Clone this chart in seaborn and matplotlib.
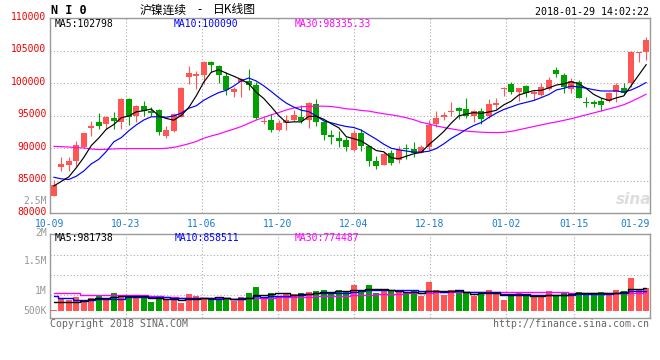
import numpy as np
import pandas as pd
import matplotlib
matplotlib.use("Agg")
import matplotlib.pyplot as plt
from matplotlib.transforms import ScaledTranslation
import seaborn as sns

# ---------------- data ----------------
date_labels = ['10-09', '10-23', '11-06', '11-20', '12-04', '12-18', '01-02', '01-15', '01-29']
date_idx = [0, 10, 20, 30, 40, 50, 60, 69, 79]

open_ = [82700, 87200, 87500, 88010, 90150, 93060, 94080, 93670, 94640, 94000,
         97600, 94900, 96530, 95800, 95820, 91940, 92600, 94850, 101020, 101070,
         101230, 103270, 102600, 101120, 98670, 100150, 100360, 99740, 94030, 94390,
         92860, 93880, 94390, 94800, 94390, 96840, 93980, 92090, 91640, 91330,
         89690, 92350, 90410, 88110, 87500, 89290, 88160, 89950, 89950, 89290,
         90200, 93780, 94740, 95660, 96220, 96070, 95000, 95770, 94900, 96630,
         99080, 99950, 98720, 99590, 98300, 98270, 99130, 102040, 101280, 99130,
         100260, 97040, 97140, 97250, 97350, 98680, 99340, 100000, 104590, 104850]
high = [85200, 88700, 88700, 91100, 92400, 94130, 95400, 94900, 95610, 97700,
        97760, 96600, 97300, 96400, 96020, 93470, 95450, 99400, 102650, 101890,
        103470, 103470, 102800, 101790, 99490, 100870, 102190, 100150, 94800, 95310,
        94390, 95100, 95920, 96630, 97200, 97600, 94130, 92860, 92600, 91740,
        92760, 92960, 90410, 88780, 89390, 89700, 90300, 90710, 90970, 90560,
        94390, 95760, 95510, 97140, 96430, 97700, 95920, 96170, 97600, 97760,
        99490, 100150, 99330, 99800, 98900, 100000, 101020, 102550, 101630, 100770,
        100510, 97960, 97450, 97710, 98730, 100000, 100000, 105000, 104850, 107140]
low = [82600, 86500, 86500, 87250, 90000, 91840, 92960, 92960, 92960, 93000,
       93620, 94000, 94900, 94900, 92100, 91640, 92450, 94800, 99850, 99080,
       99850, 101790, 100100, 98200, 97960, 97960, 98980, 94540, 93780, 92450,
       92600, 92760, 94130, 93880, 93080, 93370, 91330, 90710, 90150, 89540,
       89540, 89540, 87350, 86890, 87400, 87500, 87760, 88370, 88670, 89290,
       89800, 93270, 94290, 94900, 94490, 94640, 93980, 93780, 94640, 96020,
       98110, 98310, 97300, 97860, 97400, 98110, 98980, 101020, 98570, 98470,
       97710, 96430, 96430, 95670, 97200, 97200, 98220, 99490, 103320, 103570]
close = [84300, 87550, 88110, 90560, 92400, 93470, 93370, 94800, 94230, 97600,
         94850, 96530, 95710, 95500, 92450, 92760, 95250, 99300, 101580, 101480,
         103270, 102860, 101230, 98980, 99130, 100660, 99690, 94640, 94180, 92760,
         93880, 94390, 95150, 94130, 96990, 93980, 92090, 91680, 91070, 90150,
         92350, 90410, 88010, 87350, 89180, 87760, 89700, 89900, 89290, 90200,
         93620, 94640, 95150, 95770, 95770, 95000, 95770, 94540, 96840, 97040,
         99230, 98620, 99280, 98570, 98700, 99390, 100510, 101480, 99490, 100360,
         97810, 96940, 96840, 96680, 98570, 99740, 98470, 104850, 104740, 106630]
volume = [56, 490, 448, 574, 448, 532, 672, 532, 742, 602,
          644, 588, 588, 378, 574, 448, 504, 336, 700, 630,
          560, 504, 504, 518, 434, 574, 742, 994, 602, 742,
          602, 742, 700, 742, 798, 826, 868, 742, 868, 826,
          1078, 868, 1078, 742, 826, 826, 826, 784, 826, 616,
          1204, 868, 658, 868, 784, 742, 616, 700, 868, 784,
          448, 616, 742, 700, 616, 574, 826, 644, 784, 742,
          784, 742, 672, 784, 742, 868, 826, 1372, 868, 952]  # thousands

ma30 = [90300, 90250, 90200, 90100, 90050, 89900, 89800, 89850, 89900, 89950,
        89950, 89950, 89950, 89950, 89950, 90000, 90150, 90400, 90700, 91050,
        91550, 91900, 92200, 92600, 92950, 93350, 93850, 94350, 94750, 95150,
        95500, 95900, 96200, 96400, 96430, 96480, 96480, 96430, 96280, 96070,
        96000, 95820, 95720, 95510, 95310, 95150, 94950, 94700, 94400, 94000,
        93750, 93450, 93200, 93000, 92800, 92650, 92550, 92480, 92430, 92420,
        92450, 92600, 92850, 93100, 93350, 93600, 93850, 94050, 94300, 94550,
        94850, 95150, 95450, 95750, 96050, 96350, 96700, 97200, 97750, 98335]
ma5_head = [84200, 84900, 85600, 87000]
ma10_head = [85550, 85300, 85200, 85700, 86500, 87600, 88300, 89500, 91000]
vma5_head = [378, 378, 378, 378]
vma10_head = [644, 560, 560, 476, 476, 476, 490, 490, 504]
vma30_head = [749, 749, 749, 749, 672, 672, 672, 672, 672, 672, 672, 672, 672,
              630, 630, 588, 588, 560, 560, 560, 560, 546, 546, 546, 504, 504,
              546, 546, 546]

ma_text = ['MA5:102798', 'MA10:100090', 'MA30:98335.33']
vma_text = ['MA5:981738', 'MA10:858511', 'MA30:774487']
ytick_vals = [80000, 85000, 90000, 95000, 100000, 105000, 110000]
vol_labels = ['2M', '1.5M', '1M', '500K']

# ---------------- derived ----------------
n = len(close)
idx = np.arange(n)
o = np.array(open_, float); c = np.array(close, float)
h = np.array(high, float); l = np.array(low, float)
vol = np.array(volume, float) * 1000

def rolled(vals, w, head):
    s = pd.Series(vals).rolling(w).mean().to_numpy()
    s[:len(head)] = head
    return s

ma5 = rolled(c, 5, ma5_head)
ma10 = rolled(c, 10, ma10_head)
vma5 = rolled(vol, 5, np.array(vma5_head) * 1000)
vma10 = rolled(vol, 10, np.array(vma10_head) * 1000)
vma30 = rolled(vol, 30, np.array(vma30_head) * 1000)

RED = '#FF5555'
GREEN = '#00A000'
up = c >= o
colors = np.where(up, RED, GREEN)

# ---------------- style ----------------
sns.set_style("white")
plt.rcParams['font.family'] = ['DejaVu Sans Mono', 'Noto Sans CJK SC']
MONO = 'DejaVu Sans Mono'
GRID = '#AAAAAA'
SPINE = '#999999'
LBLUE = '#1A7BD0'
TRED = '#EE0000'
GRAY = '#999999'

W, H = 660, 360
def fx(px): return px / W
def fy(py): return 1 - py / H

fig = plt.figure(figsize=(6.6, 3.6), dpi=100)
ax = fig.add_axes([fx(50), fy(213.3), 600 / W, (213.3 - 18.3) / H])
axv = fig.add_axes([fx(50), fy(318), 600 / W, 84 / H])

# candles
ax.vlines(idx, l, h, colors=colors, linewidth=0.8, zorder=2)
body_bot = np.minimum(o, c)
body_h = np.maximum(np.abs(c - o), 130)
ax.bar(idx, body_h, bottom=body_bot, width=0.76, color=colors, linewidth=0, zorder=3)

sns.lineplot(x=idx, y=ma30, color='#FF00FF', linewidth=0.85, ax=ax, zorder=4)
sns.lineplot(x=idx, y=ma10, color='#0000FF', linewidth=0.85, ax=ax, zorder=5)
sns.lineplot(x=idx, y=ma5, color='black', linewidth=0.85, ax=ax, zorder=6)

# volume
vdf = pd.DataFrame({'idx': idx, 'vol': vol, 'dir': np.where(up, 'up', 'down')})
sns.barplot(data=vdf, x='idx', y='vol', hue='dir', palette={'up': RED, 'down': GREEN},
            native_scale=True, dodge=False, width=0.76, saturation=1, legend=False,
            linewidth=0, ax=axv, zorder=3)
sns.lineplot(x=idx, y=vma30, color='#FF00FF', linewidth=1.0, drawstyle='steps-mid', ax=axv, zorder=4)
sns.lineplot(x=idx, y=vma10, color='#0000FF', linewidth=1.0, drawstyle='steps-mid', ax=axv, zorder=5)
sns.lineplot(x=idx, y=vma5, color='black', linewidth=1.0, drawstyle='steps-mid', ax=axv, zorder=6)

# axes formatting
tick_pos = [-0.5 + 80 * k / 79 for k in date_idx]
K = 42000
for a in (ax, axv):
    a.set_xlim(-0.5, 79.5)
    a.set_xticks(tick_pos)
    a.grid(True, color=GRID, linestyle=(0, (1, 2)), linewidth=0.8)
    a.set_axisbelow(True)
    a.tick_params(length=0)
    a.set_xlabel('')
    a.set_ylabel('')
    for sp in a.spines.values():
        sp.set_color(SPINE)
        sp.set_linewidth(1.0)
        sp.set_visible(True)

ax.set_ylim(80000, 110000)
ax.set_yticks(ytick_vals)
ax.set_yticklabels([str(v) for v in ytick_vals], color=TRED, fontsize=7, fontfamily=MONO)
ax.tick_params(axis='y', pad=2.5)
shift = ScaledTranslation(0, 2.5 / 100, fig.dpi_scale_trans)
for t in ax.get_yticklabels():
    t.set_transform(t.get_transform() + shift)
ax.set_xticklabels(date_labels, color=LBLUE, fontsize=7, fontfamily=MONO)
ax.tick_params(axis='x', pad=4)
xt = ax.get_xticklabels()
xt[-1].set_horizontalalignment('right')

vlo, vhi = -7 * K, 77 * K
axv.set_ylim(vlo, vhi)
axv.set_yticks([vlo + f * (vhi - vlo) for f in (0.274, 0.512, 0.75)])
axv.set_yticklabels([])
axv.set_xticklabels([])

# texts
def ptxt(px, py, s, **kw):
    kw.setdefault('fontsize', 7)
    kw.setdefault('fontfamily', MONO)
    kw.setdefault('va', 'center')
    fig.text(fx(px), fy(py), s, **kw)

ptxt(51, 11, 'N I 0', fontsize=8.5, fontweight='bold', color='black')
fig.text(fx(140), fy(10), '沪镍连续', fontsize=8.5, fontfamily='Noto Sans CJK SC', va='center', color='black')
fig.text(fx(200), fy(10), '-', fontsize=8.5, fontfamily='Noto Sans CJK SC', va='center', ha='center', color='black')
fig.text(fx(213), fy(10), '日K线图', fontsize=8.5, fontfamily='Noto Sans CJK SC', va='center', color='black')
ptxt(649, 12, '2018-01-29 14:02:22', ha='right', color='black', fontsize=7.2)

ptxt(54.5, 24, ma_text[0], color='black')
ptxt(174, 24, ma_text[1], color='#0000FF')
ptxt(295, 24, ma_text[2], color='#FF00FF')

ptxt(54.5, 238, vma_text[0], color='black')
ptxt(175, 238, vma_text[1], color='#0000FF')
ptxt(295, 238, vma_text[2], color='#FF00FF')

ptxt(47, 201, '2.5M', ha='right', color=GRAY)
for lab, py in zip(vol_labels, [232.5, 261, 291, 311]):
    ptxt(47, py, lab, ha='right', color=GRAY)

ptxt(50, 324, 'Copyright 2018 SINA.COM', color='#666666', fontsize=7.1)
ptxt(649, 324, 'http://finance.sina.com.cn', ha='right', color='#666666', fontsize=7.1)

# faint watermark
fig.text(fx(634), fy(200), 'sina', fontsize=11, fontstyle='italic', fontweight='bold',
         fontfamily='DejaVu Sans', color='#DDDDDD', ha='center', va='center', zorder=0)

fig.savefig('out.png', dpi=100)
